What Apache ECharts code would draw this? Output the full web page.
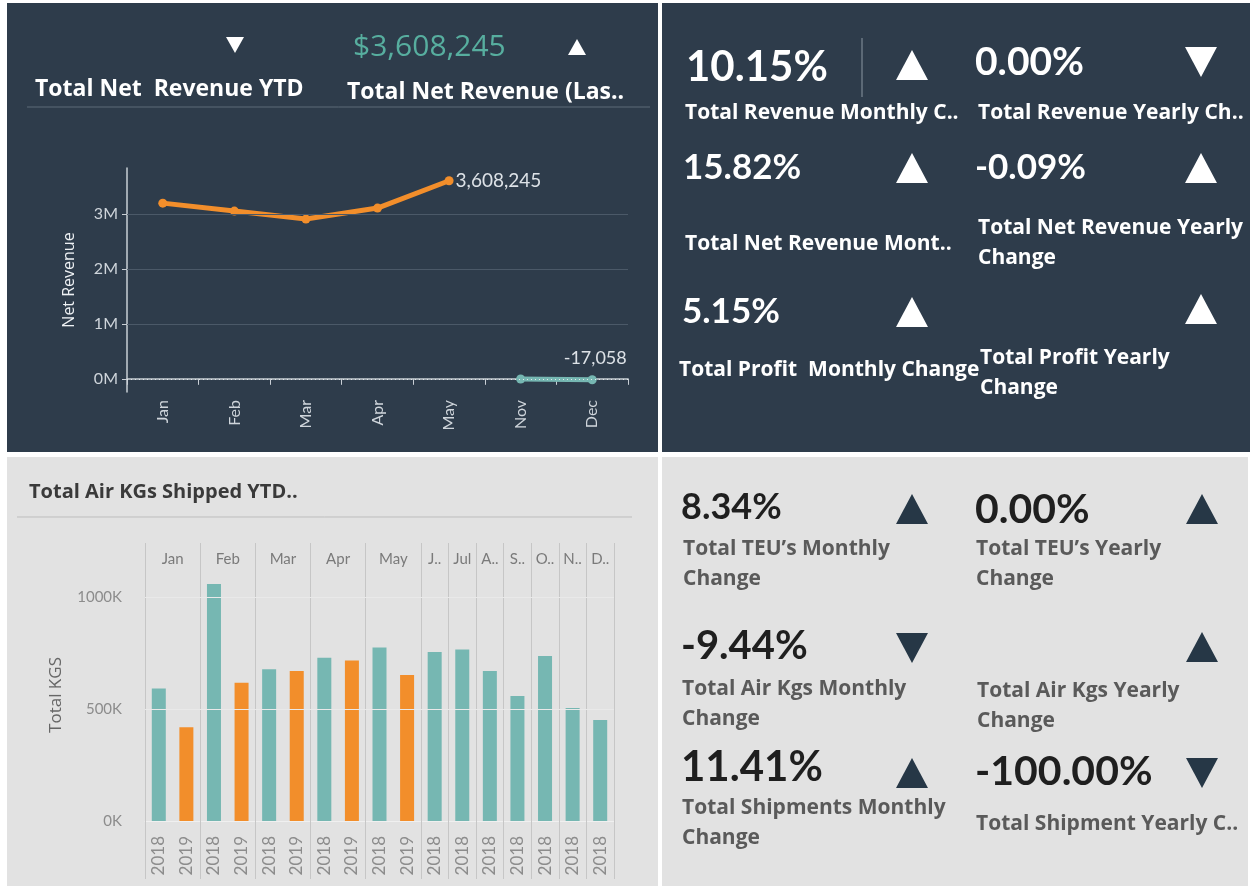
<!DOCTYPE html>
<html>
<head>
<meta charset="utf-8">
<script src="https://cdn.jsdelivr.net/npm/echarts@6/dist/echarts.min.js"></script>
<style>
  html, body { margin: 0; padding: 0; background: #fff; }
  #main { width: 1250px; height: 886px; }
</style>
</head>
<body>
<div id="main"></div>
<script>
// net revenue (top left)
var revMonths = ['Jan', 'Feb', 'Mar', 'Apr', 'May', 'Nov', 'Dec'];
var revCurrent = [3200000, 3055000, 2910000, 3110000, 3608245, null, null];
var revPrior = [null, null, null, null, null, -4000, -17058];
var revTicks = [0, 1000000, 2000000, 3000000];

// air kgs shipped (bottom left)
var kgsMonth = ['Jan', 'Jan', 'Feb', 'Feb', 'Mar', 'Mar', 'Apr', 'Apr', 'May', 'May', 'Jun', 'Jul', 'Aug', 'Sep', 'Oct', 'Nov', 'Dec'];
var kgsYear = ['2018', '2019', '2018', '2019', '2018', '2019', '2018', '2019', '2018', '2019', '2018', '2018', '2018', '2018', '2018', '2018', '2018'];
var kgsValues = [592000, 418000, 1058000, 617000, 677000, 670000, 729000, 716000, 775000, 652000, 754000, 766000, 670000, 558000, 737000, 504000, 451000];
var monthFull = ['Jan', 'Feb', 'Mar', 'Apr', 'May', 'Jun', 'Jul', 'Aug', 'Sep', 'Oct', 'Nov', 'Dec'];
var monthHeader = ['Jan', 'Feb', 'Mar', 'Apr', 'May', 'J..', 'Jul', 'A..', 'S..', 'O..', 'N..', 'D..'];
var kgsTicks = [0, 500000, 1000000];

// KPI cards
var revKpiValues = ['10.15%', '0.00%', '15.82%', '-0.09%', '5.15%', ''];
var revKpiLabels = [['Total Revenue Monthly C..'], ['Total Revenue Yearly Ch..'], ['Total Net Revenue Mont..'],
  ['Total Net Revenue Yearly', 'Change'], ['Total Profit  Monthly Change'], ['Total Profit Yearly', 'Change']];
var revKpiDir = ['up', 'down', 'up', 'up', 'up', 'up'];

var opsKpiValues = ['8.34%', '0.00%', '-9.44%', '', '11.41%', '-100.00%'];
var opsKpiLabels = [['Total TEU\u2019s Monthly', 'Change'], ['Total TEU\u2019s Yearly', 'Change'], ['Total Air Kgs Monthly', 'Change'],
  ['Total Air Kgs Yearly', 'Change'], ['Total Shipments Monthly', 'Change'], ['Total Shipment Yearly C..']];
var opsKpiDir = ['up', 'up', 'down', 'up', 'up', 'down'];

var DARK = '#2e3c4b', LIGHT = '#e2e2e2';
var ORANGE = '#f28e2b', TEAL = '#76b7b2';
var NUMFONT = 'Lato', LABFONT = '"Open Sans"';

function txt(x, y, s, size, color, weight, family) {
  return { type: 'text', x: x, y: y, z: 10, silent: true,
    style: { text: s, fill: color, font: (weight || 'bold') + ' ' + size + 'px ' + (family || LABFONT),
      textAlign: 'left', textVerticalAlign: 'middle' } };
}
function tri(cx, cy, w, h, dir, color) {
  var pts = dir === 'up'
    ? [[cx - w / 2, cy + h / 2], [cx + w / 2, cy + h / 2], [cx, cy - h / 2]]
    : [[cx - w / 2, cy - h / 2], [cx + w / 2, cy - h / 2], [cx, cy + h / 2]];
  return { type: 'polygon', z: 10, silent: true, shape: { points: pts }, style: { fill: color } };
}
function rect(x, y, w, h, fill) {
  return { type: 'rect', z: -10, silent: true, shape: { x: x, y: y, width: w, height: h }, style: { fill: fill } };
}
function hline(x1, x2, y, color) {
  return { type: 'line', z: 5, silent: true, shape: { x1: x1, y1: y, x2: x2, y2: y }, style: { stroke: color, lineWidth: 1 } };
}

var graphics = [
  rect(7, 3, 651, 449, DARK),
  rect(662, 3, 588, 449, DARK),
  rect(7, 457, 651, 429, LIGHT),
  rect(662, 457, 586, 429, LIGHT),
  // top-left header
  tri(235, 45, 18, 16, 'down', '#ffffff'),
  txt(353, 47, '$3,608,245', 30, '#57ae9f', 'normal'),
  tri(577, 47, 18, 16, 'up', '#ffffff'),
  txt(35, 89, 'Total Net  Revenue YTD', 23, '#ffffff'),
  txt(347, 92, 'Total Net Revenue (Las..', 23, '#ffffff'),
  hline(27, 650, 107, '#5d6b79'),
  // bottom-left header
  txt(29, 492, 'Total Air KGs Shipped YTD..', 20, '#3a3a3a'),
  hline(17, 632, 517, '#bdbdbd'),
  // divider beside 10.15%
  { type: 'line', z: 5, silent: true, shape: { x1: 862, y1: 38, x2: 862, y2: 97 }, style: { stroke: '#8a96a2', lineWidth: 1 } }
];

// KPI layout: [value x, value y, value size, label x, label y (first line), triangle x, triangle y]
var revLayout = [
  [686, 67, 42, 685, 113, 912, 65], [975, 62, 39, 978, 113, 1201, 62],
  [683, 168, 35, 685, 244, 912, 168], [975, 168, 35, 978, 228, 1201, 168],
  [682, 312, 35, 679, 370, 912, 312], [975, 312, 35, 980, 358, 1201, 309]
];
revKpiValues.forEach(function (v, i) {
  var L = revLayout[i];
  if (v) graphics.push(txt(L[0], L[1], v, L[2], '#ffffff', 'bold', NUMFONT));
  revKpiLabels[i].forEach(function (s, j) { graphics.push(txt(L[3], L[4] + j * 30, s, 21, '#ffffff')); });
  graphics.push(tri(L[5], L[6], 32, 30, revKpiDir[i], '#ffffff'));
});

var opsLayout = [
  [681, 507, 36, 683, 549, 912, 509], [975, 510, 41, 976, 549, 1202, 509],
  [681, 646, 40, 682, 689, 912, 648], [975, 646, 40, 977, 691, 1202, 647],
  [681, 767, 42, 682, 808, 912, 773], [975, 772, 41, 976, 824, 1202, 773]
];
opsKpiValues.forEach(function (v, i) {
  var L = opsLayout[i];
  if (v) graphics.push(txt(L[0], L[1], v, L[2], '#1f1f1f', 'bold', NUMFONT));
  opsKpiLabels[i].forEach(function (s, j) { graphics.push(txt(L[3], L[4] + j * 30, s, 21, '#5a5a5a')); });
  graphics.push(tri(L[5], L[6], 32, 30, opsKpiDir[i], '#263746'));
});

function groupStart(idx) {
  return idx === 0 || kgsMonth[idx] !== kgsMonth[idx - 1];
}
function fmtNum(v) {
  return v.toLocaleString('en-US');
}

var chart = echarts.init(document.getElementById('main'));
var option = {
  backgroundColor: '#ffffff',
  animation: false,
  textStyle: { fontFamily: NUMFONT },
  graphic: graphics,
  grid: [
    { left: 127, top: 168, width: 501, height: 224 },
    { left: 145, top: 543, width: 469, height: 278 }
  ],
  xAxis: [
    {
      type: 'category', gridIndex: 0, data: revMonths, boundaryGap: true,
      axisLine: { lineStyle: { color: '#c9cfd5', width: 1.5 } },
      axisTick: { show: true, length: 6, lineStyle: { color: '#c9cfd5' } },
      axisLabel: { rotate: 90, color: '#cfd5db', fontSize: 16, margin: 8 },
      splitLine: { show: false }
    },
    {
      type: 'category', gridIndex: 1, data: kgsYear, boundaryGap: true,
      axisLine: { lineStyle: { color: '#f0f0f0' } },
      axisTick: { show: true, length: 58, interval: function (i) { return groupStart(i); }, lineStyle: { color: '#c6c6c6' } },
      axisLabel: { rotate: 90, interval: 0, color: '#8c8c8c', fontSize: 17, margin: 15 },
      splitLine: { show: true, interval: function (i) { return groupStart(i); }, lineStyle: { color: '#c6c6c6' } }
    }
  ],
  yAxis: [
    {
      type: 'value', gridIndex: 0, min: -240000, max: 3840000,
      name: 'Net Revenue', nameLocation: 'middle', nameGap: 50,
      nameTextStyle: { color: '#eef1f4', fontSize: 16, fontFamily: 'Open Sans' },
      axisLine: { show: true, lineStyle: { color: '#c9cfd5', width: 1.5 } },
      axisTick: { show: true, length: 5, customValues: revTicks, lineStyle: { color: '#c9cfd5' } },
      axisLabel: { customValues: revTicks, color: '#cfd5db', fontSize: 16, margin: 9,
        formatter: function (v) { return (v / 1000000) + 'M'; } },
      splitLine: { show: false }
    },
    {
      type: 'value', gridIndex: 1, min: 0, max: 1241000,
      name: 'Total KGS', nameLocation: 'middle', nameGap: 80,
      nameTextStyle: { color: '#666666', fontSize: 17, fontFamily: 'Open Sans', padding: [0, 26, 0, 0] },
      axisLine: { show: false },
      axisTick: { show: false },
      axisLabel: { customValues: kgsTicks, color: '#8c8c8c', fontSize: 15, margin: 23,
        formatter: function (v) { return (v / 1000) + 'K'; } },
      splitLine: { show: false }
    }
  ],
  series: [
    {
      name: 'Current', type: 'line', xAxisIndex: 0, yAxisIndex: 0,
      data: revCurrent.map(function (v, i) {
        if (i === 4) {
          return { value: v, label: { show: true, position: 'right', distance: 2, color: '#dde2e7', fontSize: 19,
            formatter: function (p) { return fmtNum(p.value); } } };
        }
        return v;
      }),
      symbol: 'circle', symbolSize: 9, showAllSymbol: true,
      lineStyle: { color: ORANGE, width: 5 }, itemStyle: { color: ORANGE },
      markLine: {
        silent: true, symbol: 'none', label: { show: false },
        data: [
          { yAxis: 1000000, lineStyle: { color: '#4b5968', type: 'solid', width: 1 } },
          { yAxis: 2000000, lineStyle: { color: '#4b5968', type: 'solid', width: 1 } },
          { yAxis: 3000000, lineStyle: { color: '#4b5968', type: 'solid', width: 1 } },
          { yAxis: 0, lineStyle: { color: '#e4e8ec', type: [1, 3], width: 1.2 } }
        ]
      },
      z: 3
    },
    {
      name: 'Prior', type: 'line', xAxisIndex: 0, yAxisIndex: 0,
      data: revPrior.map(function (v, i) {
        if (i === 6) {
          return { value: v, label: { show: true, position: 'top', distance: 8, offset: [3, 0], color: '#dde2e7', fontSize: 18,
            formatter: function (p) { return fmtNum(p.value); } } };
        }
        return v;
      }),
      symbol: 'circle', symbolSize: 9,
      lineStyle: { color: TEAL, width: 5 }, itemStyle: { color: TEAL },
      z: 3
    },
    {
      name: 'Total KGS', type: 'bar', xAxisIndex: 1, yAxisIndex: 1,
      data: kgsValues, barWidth: 14,
      itemStyle: { color: function (p) { return kgsYear[p.dataIndex] === '2019' ? ORANGE : TEAL; } },
      markLine: {
        silent: true, symbol: 'none', label: { show: false },
        lineStyle: { color: '#e9e9e9', type: 'solid', width: 1 },
        data: [{ yAxis: 500000 }, { yAxis: 1000000 }]
      }
    }
  ]
};
chart.setOption(option);

// month header over the grouped bars, centred through the category axis
monthFull.forEach(function (m, i) {
  var first = kgsMonth.indexOf(m), last = kgsMonth.lastIndexOf(m);
  if (first < 0) return;
  var x = (chart.convertToPixel({ xAxisIndex: 1 }, first) + chart.convertToPixel({ xAxisIndex: 1 }, last)) / 2;
  graphics.push({ type: 'text', x: x, y: 559, z: 10, silent: true,
    style: { text: monthHeader[i], fill: '#7a7a7a', font: 'normal 15px ' + NUMFONT, textAlign: 'center', textVerticalAlign: 'middle' } });
});
chart.setOption({ graphic: graphics });
</script>
</body>
</html>
